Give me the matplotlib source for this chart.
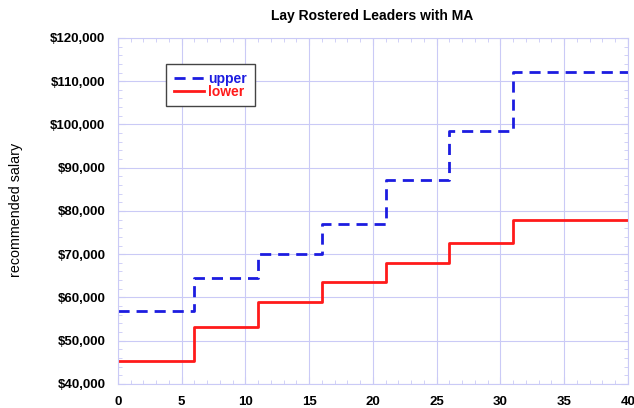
import matplotlib.pyplot as plt
from matplotlib.ticker import MultipleLocator, FuncFormatter

plt.rcParams['font.family'] = ['Liberation Sans', 'DejaVu Sans']

# years of service where each step starts (last point closes the range)
years = [0, 6, 11, 16, 21, 26, 31, 40]
upper = [56800, 64500, 70000, 77000, 87200, 98500, 112200]
lower = [45300, 53100, 59000, 63600, 68000, 72600, 78000]

grid_col = '#cacaf6'

fig = plt.figure(figsize=(6.34, 4.08), dpi=100)
ax = fig.add_axes([0.186, 0.059, 0.8045, 0.848])

ax.plot(years, upper + [upper[-1]], drawstyle='steps-post', color='#1c1ce0',
        lw=2, dashes=(4, 2.5), label='upper')
ax.plot(years, lower + [lower[-1]], drawstyle='steps-post', color='#ff1a1a',
        lw=2, label='lower')

ax.set_xlim(0, 40)
ax.set_ylim(40000, 120000)
ax.xaxis.set_major_locator(MultipleLocator(5))
ax.xaxis.set_minor_locator(MultipleLocator(1))
ax.yaxis.set_major_locator(MultipleLocator(10000))
ax.yaxis.set_minor_locator(MultipleLocator(2000))
ax.yaxis.set_major_formatter(FuncFormatter(lambda v, p: f'${v:,.0f}'))

ax.grid(True, which='major', color=grid_col, lw=0.8)
ax.set_axisbelow(True)
for s in ax.spines.values():
    s.set_color(grid_col)
ax.tick_params(which='both', direction='in', top=True, right=True,
               color=grid_col, labelsize=9.5, pad=9)
ax.tick_params(which='major', length=5)
ax.tick_params(which='minor', length=3)
for lab in ax.get_xticklabels() + ax.get_yticklabels():
    lab.set_fontweight('bold')

# title and y label sit at fixed spots of the figure
fig.text(372 / 634, 1 - 16 / 408, 'Lay Rostered Leaders with MA', fontsize=10,
         fontweight='bold', ha='center', va='center')
fig.text(16 / 634, 1 - 210 / 408, 'recommended salary', fontsize=10.3,
         rotation=90, ha='center', va='center')

leg = ax.legend(loc='upper left', bbox_to_anchor=(0.094, 0.925), borderaxespad=0,
                fancybox=False, framealpha=1, edgecolor='#444444',
                prop={'weight': 'bold', 'size': 10}, handlelength=2.2,
                handletextpad=0.3, labelspacing=-0.05, borderpad=0.55)
leg.get_frame().set_linewidth(1.0)
for txt, line in zip(leg.get_texts(), leg.get_lines()):
    txt.set_color(line.get_color())

fig.savefig('out.png', dpi=100)
